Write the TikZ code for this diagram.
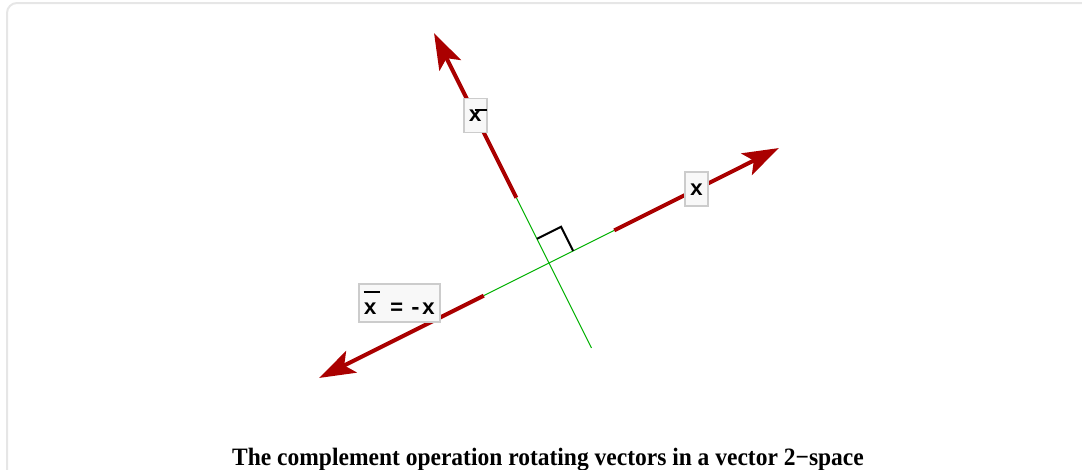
\documentclass[tikz,border=0pt]{standalone}
\usepackage{fontspec}
\setmainfont{Liberation Serif}
\newfontfamily\labelfont{Liberation Mono}
\usetikzlibrary{arrows.meta, positioning, calc}
\definecolor{vecred}{HTML}{AA0000}
\definecolor{axisgreen}{HTML}{00B000}
\definecolor{boxgray}{HTML}{CCCCCC}
\definecolor{boxfill}{HTML}{F8F8F8}
\definecolor{framegray}{HTML}{E6E6E6}

% x with a bar: #1 shifts the bar, #2 raises it, #3 is its length
\newcommand{\barx}[3]{\makebox[0.6em][l]{x\kern-0.6em\kern#1\raisebox{#2}{\rule{#3}{1.4pt}}}}

\begin{document}
\begin{tikzpicture}[
    x=1pt, y=-1pt,
    vec/.style={draw=vecred, line width=4pt, -{Stealth[length=36pt, width=24pt, inset=8pt]}},
    axis/.style={draw=axisgreen, line width=1pt},
    corner/.style={draw=black, line width=2pt},
    lab/.style={draw=boxgray, fill=boxfill, line width=1.8pt, inner xsep=5pt, inner ysep=3pt,
      minimum height=34pt, font=\labelfont\bfseries\fontsize{22}{22}\selectfont},
  ]
  \useasboundingbox (0,0) rectangle (1082,469);
  \clip (0,0) rectangle (1082,469);
  \draw[framegray, line width=2pt, rounded corners=10pt] (7,3) rectangle (1100,490);

  \coordinate (O) at (549,263);
  \coordinate (xs) at ($(O)+(-26.57:73)$);
  \coordinate (xt) at ($(O)+(-26.57:257)$);
  \coordinate (bs) at ($(O)+(-116.57:73)$);
  \coordinate (bt) at ($(O)+(-116.57:257)$);
  \coordinate (ns) at ($(O)+(153.43:73)$);
  \coordinate (nt) at ($(O)+(153.43:257)$);
  \coordinate (pe) at ($(O)+(63.43:95)$);

  % axes
  \draw[axis] (ns) -- (xs);
  \draw[axis] (bs) -- (pe);

  % right angle
  \coordinate (ra) at ($(O)+(-116.57:27)$);
  \coordinate (rb) at ($(O)+(-26.57:27)$);
  \coordinate (rc) at ($(ra)+(-26.57:27)$);
  \draw[corner] (ra) -- (rc) -- (rb);

  % vectors
  \draw[vec] (xs) -- (xt);
  \draw[vec] (bs) -- (bt);
  \draw[vec] (ns) -- (nt);

  \node[lab] (xlab) at ($(O)+(-26.57:165)$) {x};
  \node[lab] (xbarlab) at ($(O)+(-116.57:165)$) {\barx{0.27em}{0.5em}{0.55em}};
  \coordinate (nl) at ($(O)+(153.43:165)$);
  \node[lab, minimum height=38pt, above=14pt of nl, xshift=-2pt] (neglab)
    {\barx{0em}{1em}{0.75em} =\kern0.25em-x};

  \node[font=\bfseries\fontsize{25}{25}\selectfont, anchor=base] (caption) at (548,465)
    {\scalebox{0.94}[1]{The complement operation rotating vectors in a vector 2−space}};
\end{tikzpicture}
\end{document}
